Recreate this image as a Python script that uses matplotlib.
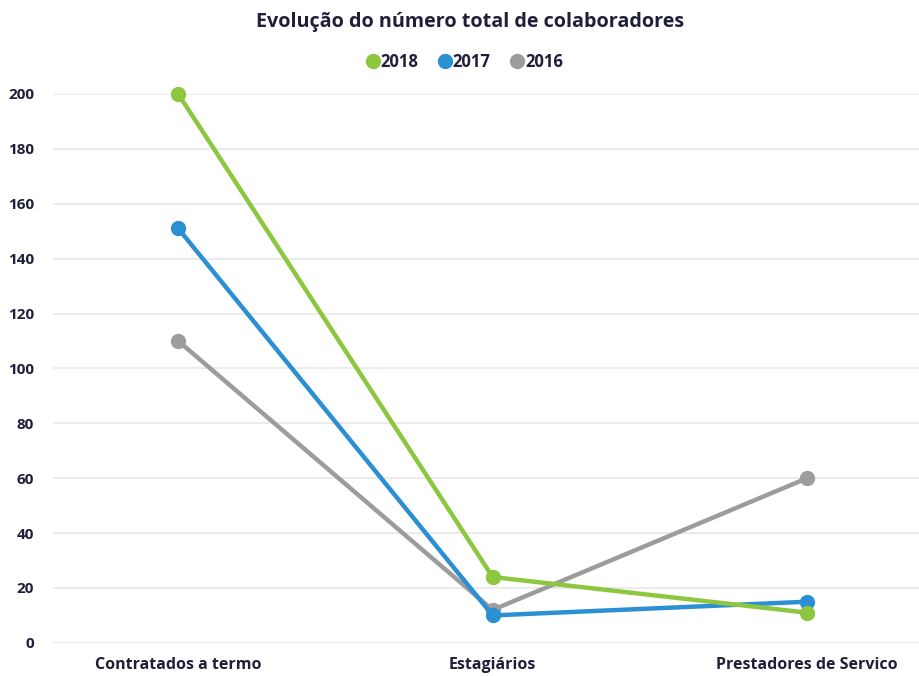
import matplotlib.pyplot as plt

plt.rcParams['font.family'] = ['Open Sans', 'DejaVu Sans']

# Data
categories = ['Contratados a termo', 'Estagiários', 'Prestadores de Servico']
years = ['2018', '2017', '2016']
values_2018 = [200, 24, 11]
values_2017 = [151, 10, 15]
values_2016 = [110, 12, 60]
colors = ['#8dc63f', '#2b8fd3', '#9c9c9c']

fig = plt.figure(figsize=(9.2, 6.76), dpi=100)
ax = fig.add_axes([0.058, 0.049, 0.942, 0.812])

x = range(len(categories))
# draw 2016 first so 2018 sits on top
for label, vals, col in reversed(list(zip(years, [values_2018, values_2017, values_2016], colors))):
    ax.plot(x, vals, color=col, linewidth=3.2, marker='o', markersize=10,
            label=label, clip_on=False, solid_capstyle='round')

ax.set_xlim(-0.397, 2.359)
ax.set_ylim(0, 200)
ax.set_yticks(range(0, 201, 20))
ax.set_xticks(list(x))
ax.set_xticklabels(categories)
ax.grid(axis='y', color='#e8e8e8', linewidth=1.2)
ax.set_axisbelow(True)
for s in ax.spines.values():
    s.set_visible(False)
ax.tick_params(length=0, colors='#1f1f3a')
ax.tick_params(axis='y', pad=14, labelsize=11)
ax.tick_params(axis='x', pad=10, labelsize=11.5)
for t in ax.get_xticklabels() + ax.get_yticklabels():
    t.set_fontweight('bold')

fig.text(0.511, 0.968, 'Evolução do número total de colaboradores', ha='center', va='center',
         fontsize=14.2, fontweight='bold', color='#1f1f3a')

handles, labels = ax.get_legend_handles_labels()
leg = fig.legend(handles[::-1], labels[::-1], loc='center', bbox_to_anchor=(0.506, 0.908), ncol=3,
                 frameon=False, handlelength=0.6, handletextpad=0.15, columnspacing=1.3,
                 prop={'size': 12, 'weight': 'bold'})
for h in leg.legend_handles:
    h.set_linestyle('none')
    h.set_markersize(10)
for t in leg.get_texts():
    t.set_color('#1f1f3a')

plt.savefig('out.png', dpi=100)
